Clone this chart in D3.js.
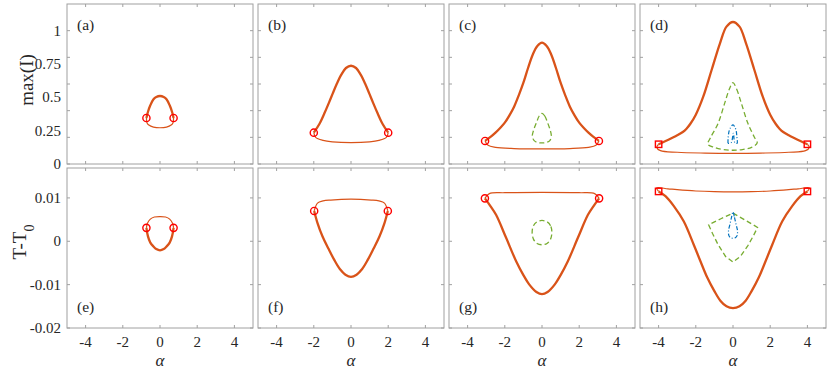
<!DOCTYPE html>
<html><head><meta charset="utf-8">
<script src="https://cdn.jsdelivr.net/npm/d3@7"></script>
<style>body{margin:0;background:#fff}svg{display:block}</style>
</head><body><svg id="c" width="830" height="369" font-family="Liberation Serif"></svg>
<script>
// ---------- data ----------
const xTicks = [-4, -2, 0, 2, 4];
const xTickLabels = ["-4", "-2", "0", "2", "4"];
const topTickMarks = [0, 0.2, 0.4, 0.6, 0.8, 1.0];
const topTickLabelVals = [0, 0.25, 0.5, 0.75, 1];
const topTickLabels = ["0", "0.25", "0.5", "0.75", "1"];
const botTicks = [-0.02, -0.01, 0, 0.01];
const botTickLabels = ["-0.02", "-0.01", "0", "0.01"];
const panelLabels = ["(a)", "(b)", "(c)", "(d)", "(e)", "(f)", "(g)", "(h)"];

// panel (a) max(I)
const aThick = [[-0.73,0.345],[-0.65,0.39],[-0.52,0.44],[-0.35,0.485],[-0.2,0.503],[0,0.51],[0.2,0.503],[0.35,0.485],[0.52,0.44],[0.65,0.39],[0.73,0.345]];
const aThin = [[-0.73,0.345],[-0.7,0.31],[-0.6,0.292],[-0.35,0.277],[0,0.272],[0.35,0.277],[0.6,0.292],[0.7,0.31],[0.73,0.345]];
const aEnds = [[-0.73,0.345],[0.73,0.345]];
// panel (b)
const bThick = [[-2.0,0.235],[-1.7,0.3],[-1.43,0.38],[-1.2,0.455],[-0.98,0.53],[-0.75,0.605],[-0.53,0.668],[-0.27,0.72],[0,0.737],[0.27,0.72],[0.53,0.668],[0.75,0.605],[0.98,0.53],[1.2,0.455],[1.43,0.38],[1.7,0.3],[2.0,0.235]];
const bThin = [[-2.0,0.235],[-1.9,0.2],[-1.5,0.177],[-1.0,0.166],[0,0.16],[1.0,0.166],[1.5,0.177],[1.9,0.2],[2.0,0.235]];
const bEnds = [[-2.0,0.235],[2.0,0.235]];
// panel (c)
const cThick = [[-3.06,0.173],[-2.75,0.205],[-2.5,0.235],[-2.25,0.27],[-2.0,0.31],[-1.75,0.365],[-1.5,0.43],[-1.25,0.515],[-1.0,0.61],[-0.75,0.72],[-0.5,0.82],[-0.25,0.885],[0,0.91],[0.25,0.885],[0.5,0.82],[0.75,0.72],[1.0,0.61],[1.25,0.515],[1.5,0.43],[1.75,0.365],[2.0,0.31],[2.25,0.27],[2.5,0.235],[2.75,0.205],[3.06,0.173]];
const cThin = [[-3.06,0.173],[-2.9,0.14],[-2.5,0.125],[-1.5,0.116],[0,0.113],[1.5,0.116],[2.5,0.125],[2.9,0.14],[3.06,0.173]];
const cGreen = [[0,0.38],[0.15,0.36],[0.3,0.31],[0.45,0.25],[0.5,0.21],[0.42,0.175],[0.2,0.16],[0,0.158],[-0.2,0.16],[-0.42,0.175],[-0.52,0.21],[-0.46,0.25],[-0.3,0.31],[-0.15,0.36]];
const cEnds = [[-3.06,0.173],[3.06,0.173]];
// panel (d)
const dThick = [[-4.0,0.148],[-3.5,0.18],[-3.0,0.215],[-2.7,0.24],[-2.5,0.265],[-2.3,0.3],[-2.0,0.37],[-1.6,0.505],[-1.15,0.705],[-0.7,0.905],[-0.35,1.03],[0,1.065],[0.35,1.03],[0.7,0.905],[1.15,0.705],[1.6,0.505],[2.0,0.37],[2.3,0.3],[2.5,0.265],[2.7,0.24],[3.0,0.215],[3.5,0.18],[4.0,0.148]];
const dThin = [[-4.0,0.148],[-4.1,0.125],[-3.9,0.1],[-3.0,0.088],[-1.5,0.082],[0,0.08],[1.5,0.082],[3.0,0.088],[3.9,0.1],[4.1,0.125],[4.0,0.148]];
const dGreen = [[0,0.61],[0.2,0.56],[0.45,0.455],[0.8,0.305],[1.15,0.2],[1.3,0.158],[1.0,0.125],[0.5,0.108],[0,0.103],[-0.5,0.108],[-1.0,0.125],[-1.35,0.148],[-1.2,0.2],[-0.8,0.305],[-0.45,0.455],[-0.2,0.56]];
const dBlue = [[-0.27,0.155],[-0.26,0.2],[-0.18,0.26],[0,0.293],[0.15,0.26],[0.21,0.2],[0.22,0.155],[0.1,0.16],[0.02,0.23],[-0.1,0.16],[-0.27,0.155]];
const dEnds = [[-4.0,0.148],[4.0,0.148]];
// panel (e) T-T0
const eThin = [[-0.73,0.0031],[-0.68,0.0041],[-0.52,0.0051],[-0.3,0.0056],[0,0.0057],[0.3,0.0056],[0.52,0.0051],[0.68,0.0041],[0.73,0.0031]];
const eThick = [[-0.73,0.0031],[-0.65,0.0012],[-0.52,-0.0003],[-0.35,-0.0012],[-0.2,-0.0018],[0,-0.0021],[0.2,-0.0018],[0.35,-0.0012],[0.52,-0.0003],[0.65,0.0012],[0.73,0.0031]];
const eEnds = [[-0.73,0.0031],[0.73,0.0031]];
// panel (f)
const fThin = [[-1.98,0.007],[-1.8,0.0088],[-1.5,0.0093],[-1.09,0.0095],[0,0.0097],[1.09,0.0095],[1.5,0.0093],[1.8,0.0088],[1.98,0.007]];
const fThick = [[-1.98,0.007],[-1.8,0.0042],[-1.53,0.0011],[-1.2,-0.0018],[-0.9,-0.0043],[-0.6,-0.0064],[-0.3,-0.0077],[0,-0.0082],[0.3,-0.0077],[0.6,-0.0064],[0.9,-0.0043],[1.2,-0.0018],[1.53,0.0011],[1.8,0.0042],[1.98,0.007]];
const fEnds = [[-1.98,0.007],[1.98,0.007]];
// panel (g)
const gThin = [[-3.07,0.0099],[-2.83,0.011],[-2.0,0.0112],[0,0.0113],[2.0,0.0112],[2.83,0.011],[3.07,0.0099]];
const gThick = [[-3.07,0.0099],[-2.8,0.0083],[-2.47,0.0061],[-1.93,0.0008],[-1.39,-0.0046],[-1.0,-0.0078],[-0.68,-0.01],[-0.3,-0.0117],[0,-0.0122],[0.3,-0.0117],[0.68,-0.01],[1.0,-0.0078],[1.39,-0.0046],[1.93,0.0008],[2.47,0.0061],[2.8,0.0083],[3.07,0.0099]];
const gGreen = [[0.53,0.0021],[0.46,0.0036],[0.27,0.0045],[0,0.0048],[-0.27,0.0045],[-0.46,0.0036],[-0.53,0.0021],[-0.46,0.0005],[-0.27,-0.0005],[0,-0.0008],[0.27,-0.0005],[0.46,0.0005]];
const gEnds = [[-3.07,0.0099],[3.07,0.0099]];
// panel (h)
const hThin = [[-4.0,0.0115],[-4.1,0.0123],[-3.5,0.0121],[-3.0,0.0119],[-2.0,0.0116],[-1.0,0.01145],[0,0.0114],[1.0,0.01145],[2.0,0.0116],[3.0,0.0119],[3.5,0.0121],[4.1,0.0123],[4.0,0.0115]];
const hThick = [[-4.0,0.0115],[-3.63,0.0104],[-3.18,0.0081],[-2.65,0.0046],[-2.11,-0.0008],[-1.75,-0.0046],[-1.39,-0.0083],[-1.0,-0.0115],[-0.68,-0.0137],[-0.35,-0.0150],[0,-0.0154],[0.35,-0.0150],[0.68,-0.0137],[1.0,-0.0115],[1.39,-0.0083],[1.75,-0.0046],[2.11,-0.0008],[2.65,0.0046],[3.18,0.0081],[3.63,0.0104],[4.0,0.0115]];
const hGreen = [[0,0.0065],[0.65,0.0049],[1.32,0.0032],[1.1,0.0013],[0.8,-0.001],[0.4,-0.0035],[0,-0.0048],[-0.4,-0.0035],[-0.8,-0.0008],[-1.1,0.0018],[-1.31,0.0038],[-0.65,0.0052]];
const hBlue = [[0,0.0068],[0.08,0.0055],[0.17,0.0038],[0.24,0.0025],[0.22,0.0013],[0.12,0.0008],[0,0.0007],[-0.12,0.0008],[-0.22,0.0013],[-0.24,0.0025],[-0.17,0.0038],[-0.08,0.0055]];
const hEnds = [[-4.0,0.0115],[4.0,0.0115]];

// ---------- layout ----------
const ORANGE = "#D95319", GREEN = "#77AC30", BLUE = "#0072BD", RED = "#FF0000";
const FONT = "Liberation Serif";
const TXT = "#262626";
const svg = d3.select("#c");
const panelW = 186, colX = [67, 258, 449, 640];
const rows = [{top: 4, bot: 164, domain: [0, 1.2]}, {top: 168, bot: 328, domain: [-0.02, 0.0169]}];

const panels = [
  {thick: aThick, thin: aThin, ends: aEnds, mk: "o"},
  {thick: bThick, thin: bThin, ends: bEnds, mk: "o"},
  {thick: cThick, thin: cThin, ends: cEnds, mk: "o", green: cGreen},
  {thick: dThick, thin: dThin, ends: dEnds, mk: "s", green: dGreen, blue: dBlue, blueOpen: true},
  {thick: eThick, thin: eThin, ends: eEnds, mk: "o"},
  {thick: fThick, thin: fThin, ends: fEnds, mk: "o"},
  {thick: gThick, thin: gThin, ends: gEnds, mk: "o", green: gGreen},
  {thick: hThick, thin: hThin, ends: hEnds, mk: "s", green: hGreen, greenLinear: true, blue: hBlue}
];

function txt(sel) { return sel.append("text").attr("font-family", FONT).attr("fill", TXT); }

panels.forEach((p, i) => {
  const r = Math.floor(i / 4), c = i % 4;
  const row = rows[r];
  const x = d3.scaleLinear().domain([-5, 5]).range([colX[c], colX[c] + panelW]);
  const y = d3.scaleLinear().domain(row.domain).range([row.bot, row.top]);
  const g = svg.append("g");
  const line = d3.line().x(d => x(d[0])).y(d => y(d[1])).curve(d3.curveCatmullRom.alpha(0.5));
  const closed = d3.line().x(d => x(d[0])).y(d => y(d[1])).curve(d3.curveCatmullRomClosed.alpha(0.5));
  const closedLin = d3.line().x(d => x(d[0])).y(d => y(d[1])).curve(d3.curveLinearClosed);

  // ticks (inward, all sides)
  const tl = 3;
  const yt = r === 0 ? topTickMarks : botTicks;
  xTicks.forEach(t => {
    g.append("line").attr("x1", x(t)).attr("x2", x(t)).attr("y1", row.bot).attr("y2", row.bot - tl).attr("stroke", "#a0a0a0");
    g.append("line").attr("x1", x(t)).attr("x2", x(t)).attr("y1", row.top).attr("y2", row.top + tl).attr("stroke", "#a0a0a0");
  });
  yt.forEach(t => {
    g.append("line").attr("x1", colX[c]).attr("x2", colX[c] + tl).attr("y1", y(t)).attr("y2", y(t)).attr("stroke", "#a0a0a0");
    g.append("line").attr("x1", colX[c] + panelW).attr("x2", colX[c] + panelW - tl).attr("y1", y(t)).attr("y2", y(t)).attr("stroke", "#a0a0a0");
  });

  // curves
  g.append("path").attr("d", line(p.thin)).attr("fill", "none").attr("stroke", ORANGE).attr("stroke-width", 1.2);
  g.append("path").attr("d", line(p.thick)).attr("fill", "none").attr("stroke", ORANGE).attr("stroke-width", 2.3);
  if (p.green) g.append("path").attr("d", (p.greenLinear ? closedLin : closed)(p.green)).attr("fill", "none")
      .attr("stroke", GREEN).attr("stroke-width", 1.3).attr("stroke-dasharray", "5,3");
  if (p.blue) g.append("path").attr("d", (p.blueOpen ? line : closed)(p.blue)).attr("fill", "none")
      .attr("stroke", BLUE).attr("stroke-width", 1.2).attr("stroke-dasharray", "4,2,1,2");

  // end markers
  p.ends.forEach(e => {
    if (p.mk === "o") {
      g.append("circle").attr("cx", x(e[0])).attr("cy", y(e[1])).attr("r", 3.6)
        .attr("fill", "none").attr("stroke", RED).attr("stroke-width", 1.4);
    } else {
      g.append("rect").attr("x", x(e[0]) - 3.2).attr("y", y(e[1]) - 3.2).attr("width", 6.4).attr("height", 6.4)
        .attr("fill", "none").attr("stroke", RED).attr("stroke-width", 1.4);
    }
  });

  // frame
  g.append("rect").attr("x", colX[c]).attr("y", row.top).attr("width", panelW).attr("height", row.bot - row.top)
    .attr("fill", "none").attr("stroke", "#a0a0a0").attr("stroke-width", 1);

  // panel label
  txt(g).attr("x", colX[c] + 10).attr("y", r === 0 ? row.top + 26 : row.bot - 16)
    .attr("font-size", 15.5).text(panelLabels[i]);

  // x tick labels
  if (r === 1) {
    xTicks.forEach((t, k) => txt(g).attr("x", x(t)).attr("y", 347).attr("text-anchor", "middle")
      .attr("font-size", 15).text(xTickLabels[k]));
    txt(g).attr("x", x(0)).attr("y", 366).attr("text-anchor", "middle").attr("font-size", 17)
      .attr("font-style", "italic").text("α");
  }
  // y tick labels
  if (c === 0) {
    const vals = r === 0 ? topTickLabelVals : botTicks;
    const labs = r === 0 ? topTickLabels : botTickLabels;
    vals.forEach((t, k) => txt(g).attr("x", 61).attr("y", y(t) + 5).attr("text-anchor", "end")
      .attr("font-size", 15).text(labs[k]));
  }
});

// axis titles
txt(svg).attr("transform", "translate(33,80) rotate(-90)").attr("text-anchor", "middle")
  .attr("font-size", 19).text("max(I)");
const tt = txt(svg).attr("transform", "translate(26,242) rotate(-90)").attr("text-anchor", "middle")
  .attr("font-size", 19);
tt.append("tspan").text("T-T");
tt.append("tspan").attr("baseline-shift", "sub").attr("font-size", 14).text("0");
</script></body></html>
